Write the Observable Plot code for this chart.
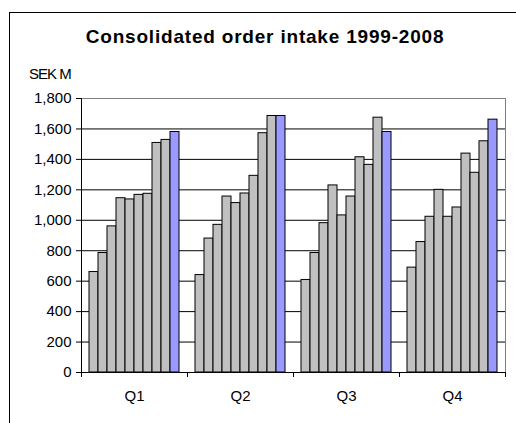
<!DOCTYPE html>
<html><head><meta charset="utf-8">
<script src="https://cdn.jsdelivr.net/npm/d3@7"></script>
<script src="https://cdn.jsdelivr.net/npm/@observablehq/plot@0.6"></script>
<style>
html,body{margin:0;padding:0;background:#fff;overflow:hidden;}
#wrap{position:relative;width:516px;height:423px;font-family:"Liberation Sans",Arial,sans-serif;color:#000;}
#chart{position:absolute;left:0;top:0;}
#border{position:absolute;left:9px;top:12px;width:530px;height:430px;border:1px solid #000;box-sizing:border-box;pointer-events:none;}
#title{position:absolute;left:0;top:27px;width:530px;text-align:center;font-weight:bold;font-size:19px;line-height:19px;letter-spacing:0.8px;white-space:nowrap;}
#unit{position:absolute;left:29px;top:66px;font-size:15px;line-height:15px;letter-spacing:-1px;white-space:nowrap;}
</style></head><body>
<div id="wrap"><div id="chart"></div><div id="title"></div><div id="unit"></div><div id="border"></div></div>
<script>
const title = "Consolidated order intake 1999-2008";
const unitLabel = "SEK M";
const quarters = ["Q1", "Q2", "Q3", "Q4"];
const years = [1999, 2000, 2001, 2002, 2003, 2004, 2005, 2006, 2007, 2008];
const q1Values = [660, 785, 960, 1145, 1137, 1167, 1174, 1508, 1528, 1580];
const q2Values = [640, 880, 970, 1156, 1113, 1176, 1292, 1572, 1685, 1685];
const q3Values = [608, 785, 981, 1229, 1032, 1156, 1414, 1364, 1674, 1580];
const q4Values = [689, 857, 1023, 1200, 1023, 1084, 1438, 1312, 1519, 1661];
const yTicks = [0, 200, 400, 600, 800, 1000, 1200, 1400, 1600, 1800];
const highlightYear = 2008;

const series = [q1Values, q2Values, q3Values, q4Values];
const data = quarters.flatMap((q, i) => series[i].map((v, j) => ({quarter: q, year: years[j], value: v})));

document.getElementById("title").textContent = title;
document.getElementById("unit").textContent = unitLabel;

function boundaryTicks(index, scales, values, dimensions) {
  const {width, height, marginLeft, marginRight, marginBottom} = dimensions;
  const y0 = height - marginBottom;
  const g = d3.create("svg:g").attr("stroke", "#000").attr("stroke-width", 1);
  for (const x of [marginLeft, width - marginRight]) {
    g.append("line").attr("x1", x + 0.5).attr("x2", x + 0.5).attr("y1", y0).attr("y2", y0 + 5);
  }
  return g.node();
}

const chart = Plot.plot({
  width: 516,
  height: 423,
  marginLeft: 80,
  marginRight: 10,
  marginTop: 98,
  marginBottom: 51,
  style: {fontFamily: "'Liberation Sans', Arial, sans-serif", fontSize: "15px", color: "#000", background: "transparent"},
  fx: {domain: quarters, padding: 0, label: null},
  x: {domain: years, paddingInner: 0, paddingOuter: 0.78, axis: null},
  y: {domain: [0, 1800], label: null},
  color: {type: "identity"},
  marks: [
    Plot.ruleY(yTicks.filter(t => t > 0 && t < 1800), {stroke: "#000", strokeWidth: 1}),
    Plot.ruleY([1800], {stroke: "#808080", strokeWidth: 1}),
    Plot.frame({anchor: "right", facetAnchor: "right", stroke: "#808080", strokeWidth: 1}),
    Plot.barY(data, {
      fx: "quarter", x: "year", y: "value",
      fill: d => d.year === highlightYear ? "#9999FF" : "#C0C0C0",
      stroke: "#000", strokeWidth: 1
    }),
    Plot.ruleY([0], {stroke: "#000", strokeWidth: 1}),
    Plot.frame({anchor: "left", facetAnchor: "left", stroke: "#000", strokeWidth: 1}),
    Plot.axisY({ticks: yTicks, tickFormat: d3.format(","), tickSize: 5, tickPadding: 5, fontSize: 15, label: null, stroke: "#000", letterSpacing: 0.7}),
    Plot.axisFx({anchor: "bottom", tickSize: 0, tickPadding: 18, fontSize: 15, label: null}),
    boundaryTicks
  ]
});
document.getElementById("chart").appendChild(chart);
</script>
</body></html>
